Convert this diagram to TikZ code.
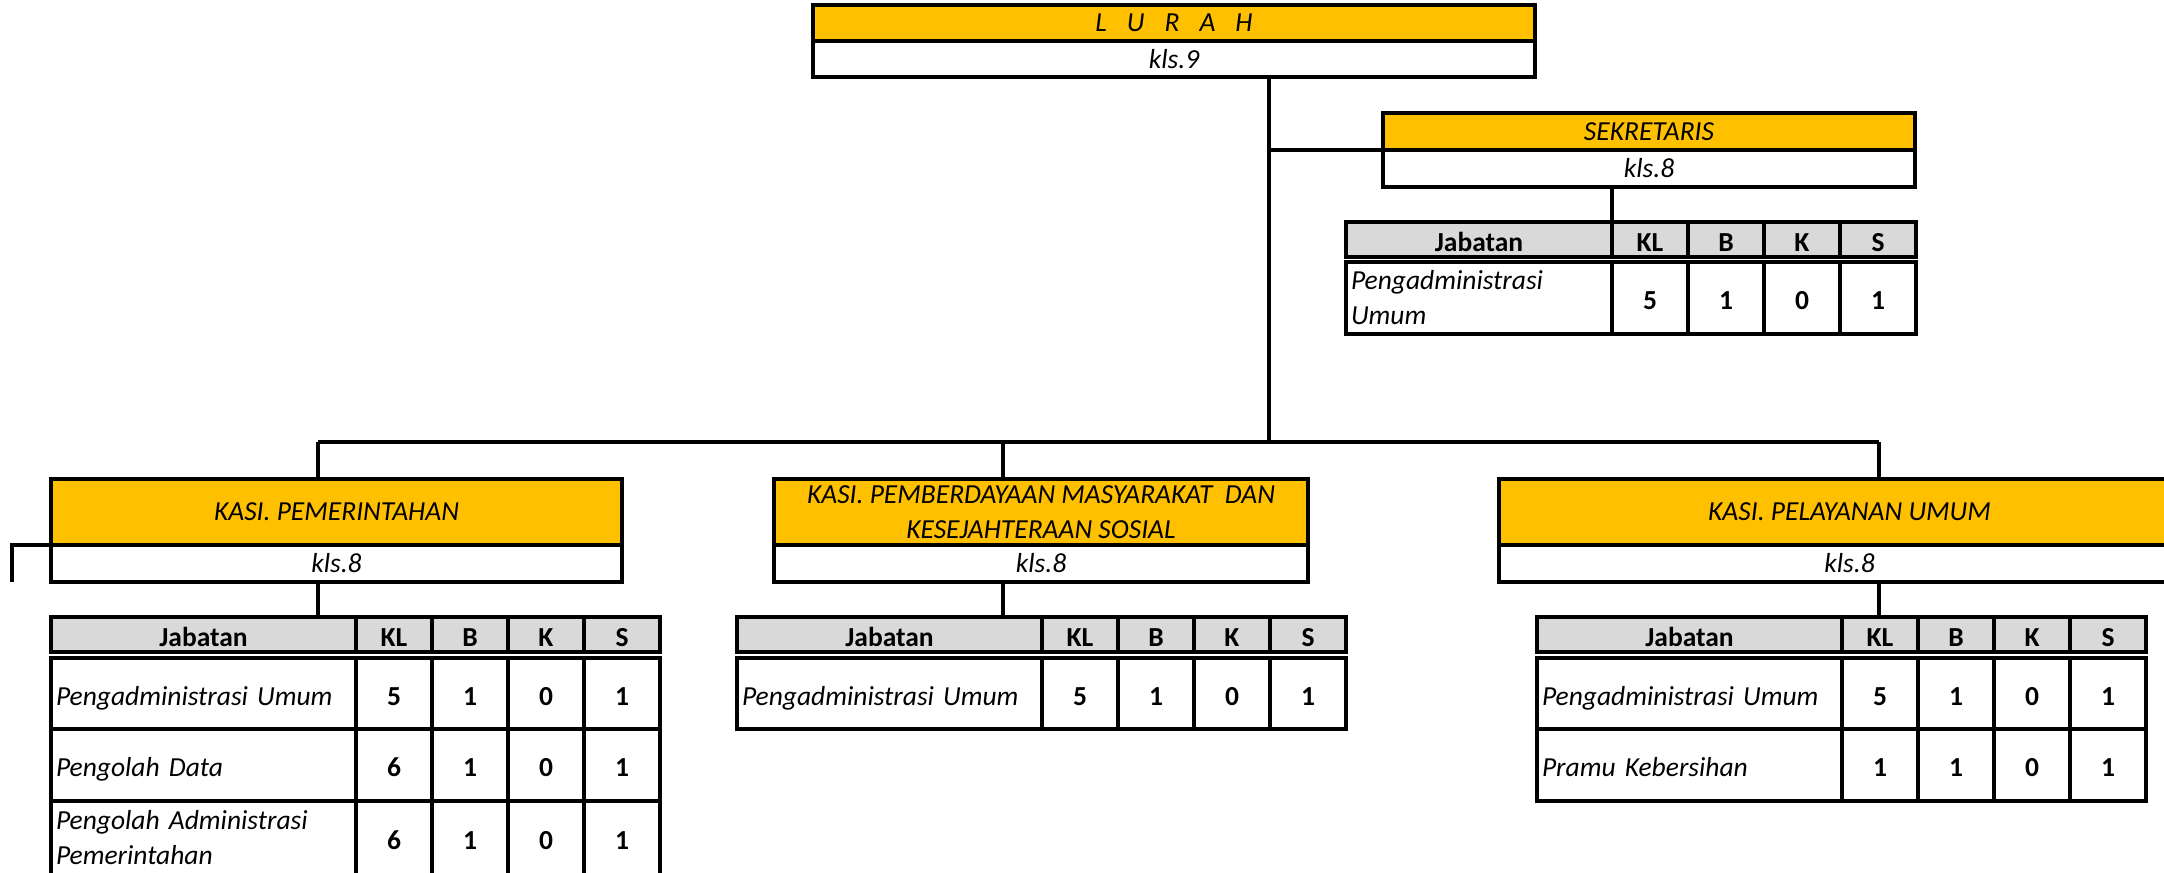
\documentclass[tikz,border=0pt]{standalone}
\usepackage{fontspec}
\setmainfont{Carlito}
\definecolor{gold}{HTML}{FFC000}
\definecolor{hdr}{HTML}{D9D9D9}
\newcommand\fs{\fontsize{27.5}{35}\selectfont}
\tikzset{
  cell/.style={draw, line width=3.1pt, outer sep=0pt, inner sep=0pt, anchor=north west, align=center, font=\fs},
  low/.style={text height=23pt, text depth=0pt},
  titlebox/.style={cell, fill=gold, font=\fs\itshape},
  klsbox/.style={cell, fill=white, font=\fs\itshape},
  hcell/.style={cell, low, fill=hdr, font=\fs\bfseries},
  ncell/.style={cell, low, font=\fs\bfseries},
  jcell/.style={cell, font=\fs\itshape, align=left, inner xsep=5pt},
  conn/.style={draw, line width=3.1pt},
}
% header row: prefix, x, y, first width
\newcommand\Hdr[4]{%
  \node[hcell, minimum width=#4pt, minimum height=35pt] (#1j) at (#2,#3) {Jabatan};
  \node[hcell, minimum width=76pt, minimum height=35pt] (#1h1) at (#2+#4,#3) {KL};
  \node[hcell, minimum width=76pt, minimum height=35pt] (#1h2) at (#2+#4+76,#3) {B};
  \node[hcell, minimum width=76pt, minimum height=35pt] (#1h3) at (#2+#4+152,#3) {K};
  \node[hcell, minimum width=76pt, minimum height=35pt] (#1h4) at (#2+#4+228,#3) {S};
}
% number cells: prefix, x, y, h, a, b, c, d
\newcommand\Nums[8]{%
  \node[ncell, minimum width=76pt, minimum height=#4pt] (#1a) at (#2,#3) {#5};
  \node[ncell, minimum width=76pt, minimum height=#4pt] (#1b) at (#2+76,#3) {#6};
  \node[ncell, minimum width=76pt, minimum height=#4pt] (#1c) at (#2+152,#3) {#7};
  \node[ncell, minimum width=76pt, minimum height=#4pt] (#1d) at (#2+228,#3) {#8};
}
\begin{document}
\begin{tikzpicture}[x=1pt,y=-1pt]
\useasboundingbox (0,0) rectangle (2164,873);

% LURAH
\node[titlebox, minimum width=722pt, minimum height=36pt] (lurT) at (813,5)
  {L\hspace{20pt}U\hspace{20pt}R\hspace{20pt}A\hspace{20pt}H};
\node[klsbox, minimum width=722pt, minimum height=36pt] (lurK) at (813,41) {kls.9};

% SEKRETARIS
\node[titlebox, minimum width=532pt, minimum height=37pt] (sekT) at (1383,113) {SEKRETARIS};
\node[klsbox, minimum width=532pt, minimum height=37pt] (sekK) at (1383,150) {kls.8};
\Hdr{sek}{1346}{222}{266}
\node[jcell, minimum width=266pt, text width=256pt, minimum height=72pt] (sekr1) at (1346,262) {Pengadministrasi\\Umum};
\Nums{sekr1n}{1612}{262}{72}{5}{1}{0}{1}

% KASI PEMERINTAHAN
\node[titlebox, minimum width=571pt, minimum height=66pt] (pemT) at (51,479) {KASI. PEMERINTAHAN};
\node[klsbox, minimum width=571pt, minimum height=37pt] (pemK) at (51,545) {kls.8};
\Hdr{pem}{51}{617}{305}
\node[jcell, low, minimum width=305pt, text width=295pt, minimum height=71pt] (pemr1) at (51,658) {Pengadministrasi Umum};
\Nums{pemr1n}{356}{658}{71}{5}{1}{0}{1}
\node[jcell, low, minimum width=305pt, text width=295pt, minimum height=72pt] (pemr2) at (51,729) {Pengolah Data};
\Nums{pemr2n}{356}{729}{72}{6}{1}{0}{1}
\node[jcell, minimum width=305pt, text width=295pt, minimum height=74pt] (pemr3) at (51,801) {Pengolah Administrasi\\Pemerintahan};
\Nums{pemr3n}{356}{801}{74}{6}{1}{0}{1}

% KASI PEMBERDAYAAN
\node[titlebox, minimum width=534pt, minimum height=66pt] (kesT) at (774,479)
  {KASI. PEMBERDAYAAN MASYARAKAT\ \ DAN\\KESEJAHTERAAN SOSIAL};
\node[klsbox, minimum width=534pt, minimum height=37pt] (kesK) at (774,545) {kls.8};
\Hdr{kes}{737}{617}{305}
\node[jcell, low, minimum width=305pt, text width=295pt, minimum height=71pt] (kesr1) at (737,658) {Pengadministrasi Umum};
\Nums{kesr1n}{1042}{658}{71}{5}{1}{0}{1}

% KASI PELAYANAN UMUM
\node[titlebox, minimum width=701pt, minimum height=66pt] (pelT) at (1499,479) {KASI. PELAYANAN UMUM};
\node[klsbox, minimum width=701pt, minimum height=37pt] (pelK) at (1499,545) {kls.8};
\Hdr{pel}{1537}{617}{305}
\node[jcell, low, minimum width=305pt, text width=295pt, minimum height=71pt] (pelr1) at (1537,658) {Pengadministrasi Umum};
\Nums{pelr1n}{1842}{658}{71}{5}{1}{0}{1}
\node[jcell, low, minimum width=305pt, text width=295pt, minimum height=72pt] (pelr2) at (1537,729) {Pramu Kebersihan};
\Nums{pelr2n}{1842}{729}{72}{1}{1}{0}{1}

% connectors
\coordinate (bA) at (318,442);
\coordinate (bB) at (1003,442);
\coordinate (bC) at (1879,442);
\coordinate (bL) at (1269,442);
\coordinate (stub) at (12,582);
\draw[conn] (bA) -- (bC);
\draw[conn] (lurK.south -| bL) -- (bL);
\draw[conn] (bL |- sekT.south) -- (sekT.south west);
\draw[conn] (sekK.south -| sekj.east) -- (sekj.north east);
\draw[conn] (bA) -- (bA |- pemT.north);
\draw[conn] (bB) -- (bB |- kesT.north);
\draw[conn] (bC) -- (bC |- pelT.north);
\draw[conn] (bA |- pemK.south) -- (bA |- pemj.north);
\draw[conn] (bB |- kesK.south) -- (bB |- kesj.north);
\draw[conn] (bC |- pelK.south) -- (bC |- pelj.north);
\draw[conn] (pemT.south west) -- (pemT.south west -| stub) -- (stub);
\end{tikzpicture}
\end{document}
